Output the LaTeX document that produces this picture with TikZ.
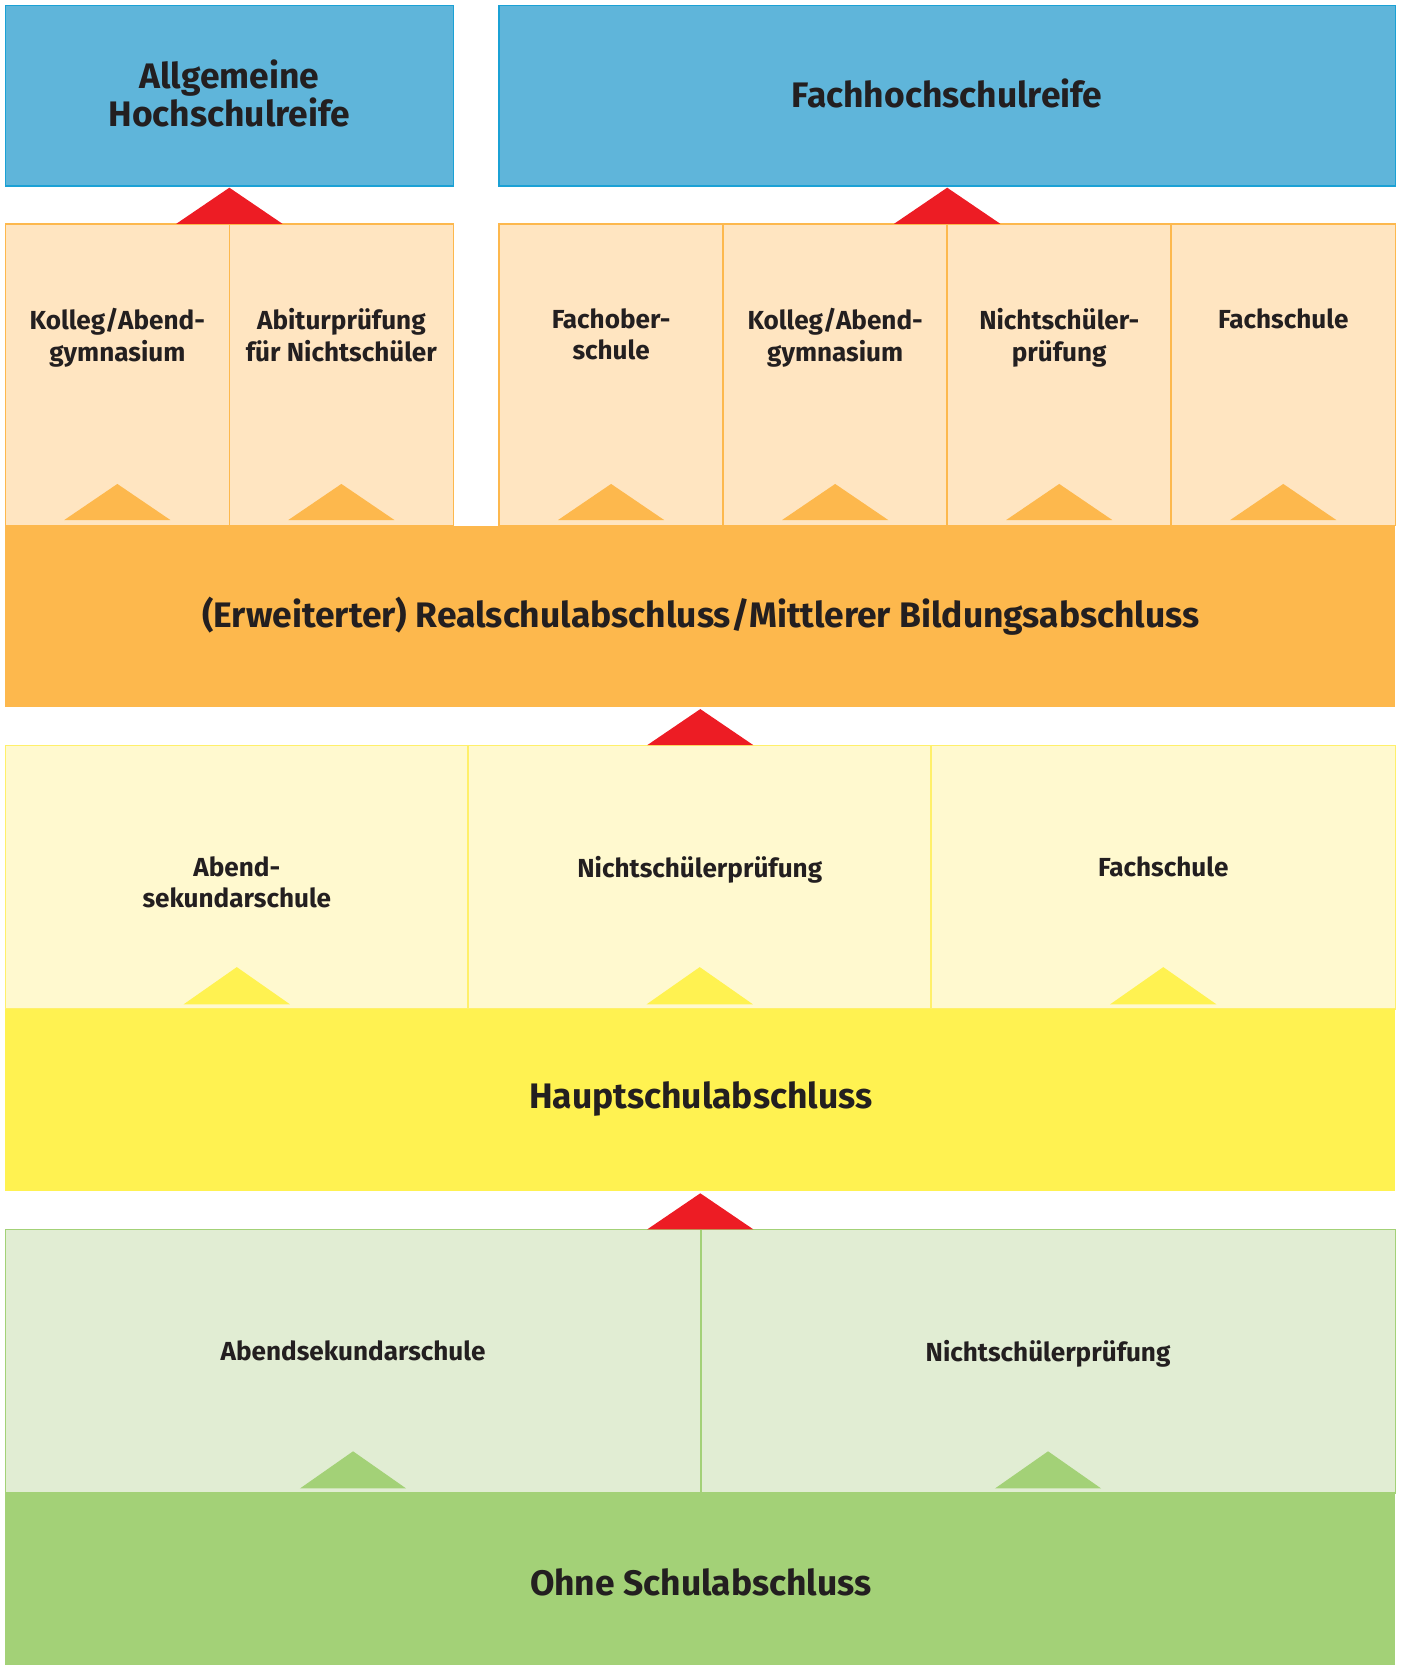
\documentclass[tikz,border=0pt]{standalone}
\usepackage{fontspec}
\setmainfont{Fira Sans}
\usetikzlibrary{fit,calc}

\definecolor{hrblue}{HTML}{5FB5DA}
\definecolor{hrline}{HTML}{1BA1D5}
\definecolor{rsorange}{HTML}{FDB84D}
\definecolor{rslight}{HTML}{FFE5C1}
\definecolor{hsyellow}{HTML}{FFF251}
\definecolor{hsline}{HTML}{FFF06A}
\definecolor{hslight}{HTML}{FFF9CF}
\definecolor{ohgreen}{HTML}{A3D177}
\definecolor{ohlight}{HTML}{E1EDD3}
\definecolor{uparrow}{HTML}{ED1C24}
\definecolor{txt}{HTML}{231F20}

\tikzset{
  box/.style={inner sep=0pt, line width=0.03cm},
  bigtext/.style={inner sep=0pt, text=txt, align=center, font=\bfseries\fontsize{19}{20.5}\selectfont},
  coltext/.style={inner sep=0pt, text=txt, align=center, anchor=north, font=\bfseries\fontsize{14}{17}\selectfont},
  hrbox/.style={box, fill=hrblue, draw=hrline},
  rscol/.style={box, fill=rslight, draw=rsorange},
  hscol/.style={box, fill=hslight, draw=hsline},
  ohcol/.style={box, fill=ohlight, draw=ohgreen}
}

\begin{document}
\begin{tikzpicture}[x=0.02cm, y=-0.02cm]
\useasboundingbox (0,0) rectangle (1321,1568);

% --- top: Hochschulreife ---
\node[hrbox, fit={(5,5) (427,175)}] (ahr) {};
\node[hrbox, fit={(470,5) (1314,175)}] (fhr) {};
\node[bigtext] (ahrt) at (216,88) {Allgemeine\\Hochschulreife};
\node[bigtext] (fhrt) at (892,88) {Fachhochschulreife};

% --- columns above Realschulabschluss ---
\node[rscol, fit={(5,211) (216,495)}] (kol1) {};
\node[rscol, fit={(216,211) (427,495)}] (abi) {};
\node[rscol, fit={(470,211) (681,495)}] (fos) {};
\node[rscol, fit={(681,211) (892,495)}] (kol2) {};
\node[rscol, fit={(892,211) (1103,495)}] (nsp1) {};
\node[rscol, fit={(1103,211) (1314,495)}] (fs1) {};

\node[coltext] (kol1t) at (kol1.north |- 0,290) {Kolleg/Abend-\\gymnasium};
\node[coltext] (abit) at (abi.north |- 0,290) {Abiturprüfung\\für Nichtschüler};
\node[coltext] (fost) at (fos.north |- 0,290) {Fachober-\\schule};
\node[coltext] (kol2t) at (kol2.north |- 0,290) {Kolleg/Abend-\\gymnasium};
\node[coltext] (nsp1t) at (nsp1.north |- 0,290) {Nichtschüler-\\prüfung};
\node[coltext] (fs1t) at (fs1.north |- 0,290) {Fachschule};

% --- Realschulabschluss band ---
\node[box, fill=rsorange, fit={(5,495) (1314,666)}] (rs) {};
\node[bigtext] (rst) at (660,580)
  {(Erweiterter) Realschulabschluss/Mittlerer Bildungsabschluss};

% --- columns above Hauptschulabschluss ---
\node[hscol, fit={(5,702) (441,950)}] (asek1) {};
\node[hscol, fit={(441,702) (877,950)}] (nsp2) {};
\node[hscol, fit={(877,702) (1314,950)}] (fs2) {};

\node[coltext] (asek1t) at (asek1.north |- 0,806) {Abend-\\sekundarschule};
\node[coltext] (nsp2t) at (nsp2.north |- 0,806) {Nichtschülerprüfung};
\node[coltext] (fs2t) at (fs2.north |- 0,806) {Fachschule};

% --- Hauptschulabschluss band ---
\node[box, fill=hsyellow, fit={(5,950) (1314,1122)}] (hs) {};
\node[bigtext] (hst) at (660,1035) {Hauptschulabschluss};

% --- columns above Ohne Schulabschluss ---
\node[ohcol, fit={(5,1158) (660,1406)}] (asek2) {};
\node[ohcol, fit={(660,1158) (1314,1406)}] (nsp3) {};

\node[coltext] (asek2t) at (asek2.north |- 0,1262) {Abendsekundarschule};
\node[coltext] (nsp3t) at (nsp3.north |- 0,1262) {Nichtschülerprüfung};

% --- bottom band ---
\node[box, fill=ohgreen, fit={(5,1406) (1314,1568)}] (oh) {};
\node[bigtext] (oht) at (660,1490) {Ohne Schulabschluss};

% --- small triangles inside the columns ---
\foreach \n in {kol1,abi,fos,kol2,nsp1,fs1}
  \fill[rsorange] ($(\n.south)+(-50,-6)$) -- ($(\n.south)+(0,-40)$) -- ($(\n.south)+(50,-6)$) -- cycle;
\foreach \n in {asek1,nsp2,fs2}
  \fill[hsyellow] ($(\n.south)+(-50,-5)$) -- ($(\n.south)+(0,-40)$) -- ($(\n.south)+(50,-5)$) -- cycle;
\foreach \n in {asek2,nsp3}
  \fill[ohgreen] ($(\n.south)+(-50,-5)$) -- ($(\n.south)+(0,-40)$) -- ($(\n.south)+(50,-5)$) -- cycle;

% --- red steps between the levels ---
\foreach \n in {ahr,fhr,rs,hs}
  \fill[uparrow] ($(\n.south)+(-50,35)$) -- ($(\n.south)+(0,1)$) -- ($(\n.south)+(50,35)$) -- cycle;
\end{tikzpicture}
\end{document}
